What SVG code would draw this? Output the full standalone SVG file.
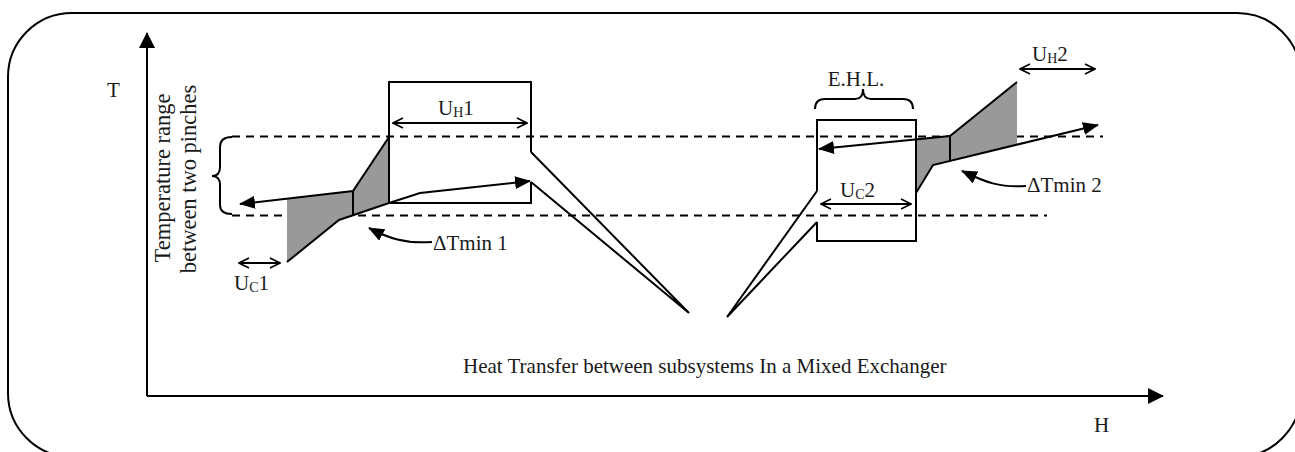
<svg xmlns="http://www.w3.org/2000/svg" width="1295" height="452" viewBox="0 0 1295 452">
<style>
text{font-family:"Liberation Serif","Times New Roman",serif;font-size:21px;fill:#1a1a1a}
.ln{fill:none;stroke:#000;stroke-width:2;stroke-linejoin:miter}
.dash{fill:none;stroke:#000;stroke-width:2;stroke-dasharray:8 6}
.sh{fill:#999;stroke:none}
.sub{font-size:14px}
.rot{font-size:22.5px}
</style>
<defs>
<marker id="ah" viewBox="0 0 16 13" refX="15" refY="6.5" markerWidth="16" markerHeight="13" markerUnits="userSpaceOnUse" orient="auto"><path d="M0,0 L16,6.5 L0,13 z" fill="#000"/></marker>
<marker id="ax" viewBox="0 0 16 16" refX="15" refY="8" markerWidth="16" markerHeight="16" markerUnits="userSpaceOnUse" orient="auto"><path d="M0,0 L16,8 L0,16 z" fill="#000"/></marker>
<marker id="oc" viewBox="0 0 12 12" refX="11" refY="6" markerWidth="12" markerHeight="12" markerUnits="userSpaceOnUse" orient="auto-start-reverse"><path d="M1,1 L11,6 L1,11" fill="none" stroke="#000" stroke-width="1.6"/></marker>
</defs>
<rect x="8" y="13" width="1293" height="444" rx="64" ry="64" fill="none" stroke="#000" stroke-width="2"/>
<g id="axes">
<path class="ln" d="M147,396 L147,33" marker-end="url(#ax)"/>
<path class="ln" d="M147,396 L1163,396" marker-end="url(#ax)"/>
<text x="107" y="97">T</text>
<text x="1094" y="432">H</text>
</g>
<g id="pinch-lines">
<path class="dash" d="M232,136.5 L1103,136.5"/>
<path class="dash" d="M232,215.5 L1047,215.5"/>
<path class="ln" stroke-width="1.6" d="M232,137 Q220,137 220,147 L220,167 Q220,176 212,176 Q220,176 220,185 L220,205 Q220,214 232,214"/>
<text class="rot" transform="translate(170,178) rotate(-90)" text-anchor="middle">Temperature range</text>
<text class="rot" transform="translate(196,179) rotate(-90)" text-anchor="middle">between two pinches</text>
</g>
<g id="subsystem1">
<polygon class="sh" points="287,198.5 353,191 353,215 339,220 287,262"/>
<polygon class="sh" points="353,191 389,137 389,203 353,215"/>
<path class="ln" d="M531,152 L531,82 L389,82 L389,203 L531,203 L531,182"/>
<path class="ln" d="M389,137 L353,191 L240,204" marker-end="url(#ah)"/>
<path class="ln" d="M287,262 L339,220 L389,203 L420,193 L530,181" marker-end="url(#ah)"/>
<path class="ln" d="M353,191 L353,215"/>
</g>
<g id="subsystem2">
<polygon class="sh" points="916,139.4 950,136 950,161 933,165 916,193"/>
<polygon class="sh" points="950,136 1017,82 1017,144.6 950,161"/>
<path class="ln" d="M817,191 L817,120 L916,120 L916,241 L817,241 L817,222"/>
<path class="ln" d="M1017,82 L950,136 L819,149" marker-end="url(#ah)"/>
<path class="ln" d="M916,193 L933,165 L1098,125" marker-end="url(#ah)"/>
<path class="ln" d="M950,136 L950,161"/>
<path class="ln" stroke-width="1.6" d="M815,109 Q815,99 825,99 L855,99 Q863,99 863,89 Q863,99 871,99 L903,99 Q913,99 913,109"/>
<text x="856" y="86" text-anchor="middle">E.H.L.</text>
</g>
<g id="connectors">
<path class="ln" stroke-width="1.6" d="M531,152 L689,313 L531,182"/>
<path class="ln" stroke-width="1.6" d="M817,191 L727,317 L817,222"/>
<path class="ln" d="M432,242 C405,244 388,238 369,228" marker-end="url(#ah)"/>
<path class="ln" d="M1026,186 C1000,188 985,182 962,171" marker-end="url(#ah)"/>
<path class="ln" stroke-width="1.6" d="M393,123 L527,123" marker-start="url(#oc)" marker-end="url(#oc)"/>
<path class="ln" stroke-width="1.6" d="M239,263 L280,263" marker-start="url(#oc)" marker-end="url(#oc)"/>
<path class="ln" stroke-width="1.6" d="M821,204 L911,204" marker-start="url(#oc)" marker-end="url(#oc)"/>
<path class="ln" stroke-width="1.6" d="M1020,69 L1095,69" marker-start="url(#oc)" marker-end="url(#oc)"/>
</g>
<g id="labels">
<text x="438" y="115">U<tspan class="sub" dy="2">H</tspan><tspan dy="-2">1</tspan></text>
<text x="234" y="290">U<tspan class="sub" dy="2">C</tspan><tspan dy="-2">1</tspan></text>
<text x="840" y="197">U<tspan class="sub" dy="2">C</tspan><tspan dy="-2">2</tspan></text>
<text x="1032" y="61">U<tspan class="sub" dy="2">H</tspan><tspan dy="-2">2</tspan></text>
<text x="433" y="250">ΔTmin 1</text>
<text x="1027" y="192">ΔTmin 2</text>
<text x="463" y="373">Heat Transfer between subsystems In a Mixed Exchanger</text>
</g>
</svg>
